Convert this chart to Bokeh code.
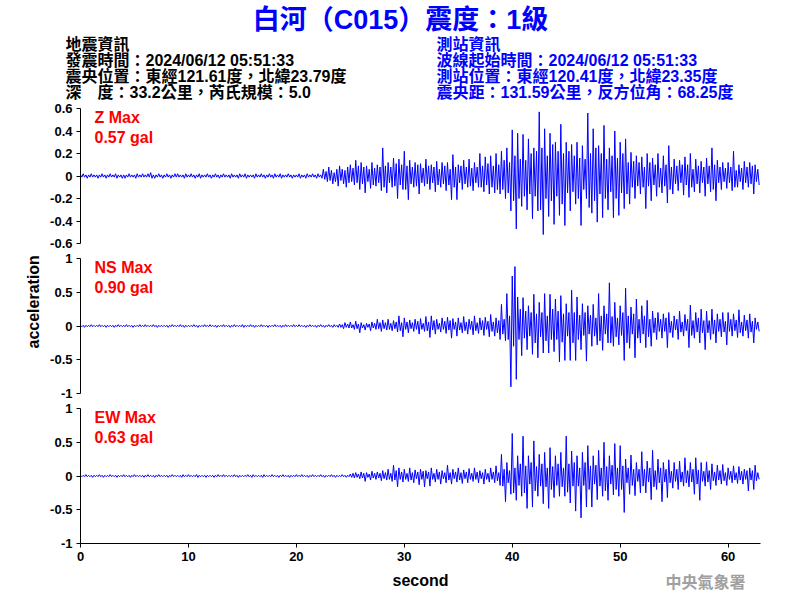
import numpy as np
from bokeh.plotting import figure
from bokeh.layouts import column
from bokeh.models import Range1d, FixedTicker, Label, Title, CustomJSTickFormatter
from bokeh.core.properties import value
from bokeh.embed import file_html
from bokeh.resources import INLINE

# ---------------- data ----------------
DT = 0.125  # seconds between samples

z_acc = [
    0.01, -0.01, 0.02, -0.01, 0.01, -0.02, 0.01, -0.01, 0.02, -0.01, 0.01, -0.01, 0.01, -0.02, 0.01, -0.01,
    0.02, -0.01, 0.01, -0.02, 0.01, -0.01, 0.02, -0.01, 0.01, -0.01, 0.02, -0.02, 0.01, -0.01, 0.01, -0.02,
    0.01, -0.02, 0.01, -0.01, 0.02, -0.01, 0.01, -0.01, 0.01, -0.02, 0.02, -0.01, 0.01, -0.01, 0.02, -0.01,
    0.01, -0.01, 0.02, -0.01, 0.03, -0.02, 0.01, -0.02, 0.01, -0.01, 0.02, -0.01, 0.01, -0.02, 0.01, -0.01,
    0.02, -0.01, 0.01, -0.02, 0.01, -0.01, 0.02, -0.01, 0.02, -0.01, 0.01, -0.01, 0.01, -0.02, 0.02, -0.01,
    0.01, -0.01, 0.02, -0.01, 0.01, -0.02, 0.01, -0.01, 0.02, -0.02, 0.01, -0.01, 0.01, -0.01, 0.02, -0.01,
    0.01, -0.02, 0.01, -0.01, 0.02, -0.01, 0.01, -0.02, 0.01, -0.01, 0.02, -0.01, 0.01, -0.01, 0.01, -0.02,
    0.02, -0.01, 0.01, -0.01, 0.01, -0.02, 0.02, -0.01, 0.01, -0.01, 0.02, -0.02, 0.01, -0.01, 0.01, -0.01,
    0.01, -0.02, 0.02, -0.01, 0.01, -0.01, 0.02, -0.01, 0.01, -0.02, 0.01, -0.01, 0.02, -0.01, 0.01, -0.02,
    0.02, -0.01, 0.01, -0.01, 0.02, -0.02, 0.01, -0.01, 0.01, -0.01, 0.02, -0.01, 0.01, -0.02, 0.01, -0.01,
    0.01, -0.01, 0.02, -0.02, 0.01, -0.01, 0.01, -0.02, 0.02, -0.01, 0.01, -0.01, 0.02, -0.01, 0.01, -0.02,
    0.02, -0.01, 0.01, -0.02, 0.06, -0.03, 0.04, -0.05, 0.08, -0.04, 0.05, -0.07, 0.03, -0.05, 0.06, -0.09,
    0.09, -0.04, 0.06, -0.07, 0.05, -0.10, 0.08, -0.06, 0.10, -0.05, 0.07, -0.08, 0.14, -0.06, 0.09, -0.12,
    0.12, -0.07, 0.08, -0.15, 0.09, -0.05, 0.06, -0.11, 0.12, -0.08, 0.07, -0.09, 0.10, -0.06, 0.08, -0.13,
    0.25, -0.10, 0.09, -0.15, 0.12, -0.06, 0.08, -0.10, 0.16, -0.09, 0.11, -0.20, 0.15, -0.08, 0.10, -0.12,
    0.22, -0.12, 0.09, -0.21, 0.14, -0.07, 0.08, -0.10, 0.12, -0.09, 0.10, -0.16, 0.11, -0.06, 0.07, -0.09,
    0.15, -0.07, 0.09, -0.12, 0.10, -0.06, 0.08, -0.14, 0.13, -0.08, 0.06, -0.10, 0.12, -0.07, 0.09, -0.13,
    0.12, -0.08, 0.06, -0.21, 0.19, -0.10, 0.08, -0.21, 0.10, -0.06, 0.09, -0.12, 0.14, -0.07, 0.08, -0.10,
    0.15, -0.09, 0.07, -0.13, 0.12, -0.06, 0.08, -0.10, 0.20, -0.10, 0.09, -0.14, 0.17, -0.08, 0.11, -0.16,
    0.18, -0.10, 0.09, -0.15, 0.20, -0.12, 0.10, -0.16, 0.22, -0.12, 0.14, -0.20, 0.25, -0.15, 0.12, -0.31,
    0.41, -0.22, 0.18, -0.47, 0.38, -0.20, 0.15, -0.27, 0.37, -0.18, 0.14, -0.30, 0.33, -0.16, 0.20, -0.38,
    0.25, -0.18, 0.22, -0.31, 0.57, -0.30, 0.25, -0.52, 0.42, -0.20, 0.18, -0.36, 0.38, -0.22, 0.28, -0.43,
    0.30, -0.18, 0.22, -0.35, 0.46, -0.25, 0.20, -0.44, 0.30, -0.15, 0.22, -0.31, 0.28, -0.14, 0.18, -0.25,
    0.30, -0.20, 0.16, -0.44, 0.27, -0.12, 0.15, -0.20, 0.56, -0.28, 0.20, -0.33, 0.42, -0.22, 0.25, -0.41,
    0.27, -0.16, 0.20, -0.37, 0.45, -0.20, 0.15, -0.30, 0.25, -0.14, 0.18, -0.37, 0.40, -0.20, 0.16, -0.35,
    0.30, -0.15, 0.20, -0.29, 0.33, -0.16, 0.12, -0.25, 0.21, -0.10, 0.13, -0.20, 0.18, -0.09, 0.12, -0.16,
    0.17, -0.10, 0.08, -0.29, 0.20, -0.09, 0.12, -0.22, 0.16, -0.08, 0.10, -0.18, 0.20, -0.10, 0.07, -0.15,
    0.18, -0.09, 0.10, -0.24, 0.27, -0.12, 0.08, -0.16, 0.15, -0.07, 0.09, -0.13, 0.14, -0.06, 0.10, -0.17,
    0.17, -0.08, 0.10, -0.19, 0.20, -0.10, 0.06, -0.14, 0.15, -0.07, 0.09, -0.15, 0.13, -0.06, 0.08, -0.18,
    0.16, -0.07, 0.09, -0.14, 0.25, -0.12, 0.10, -0.22, 0.14, -0.06, 0.08, -0.12, 0.12, -0.05, 0.07, -0.11,
    0.12, -0.06, 0.08, -0.13, 0.22, -0.10, 0.05, -0.10, 0.10, -0.05, 0.07, -0.12, 0.13, -0.06, 0.08, -0.10,
    0.12, -0.07, 0.09, -0.16, 0.10, -0.05, 0.06, -0.08,
]

ns_acc = [
    0.01, -0.01, 0.01, -0.02, 0.01, -0.01, 0.01, -0.01, 0.02, -0.01, 0.01, -0.01, 0.01, -0.01, 0.02, -0.01,
    0.01, -0.01, 0.01, -0.02, 0.01, -0.01, 0.01, -0.01, 0.01, -0.02, 0.01, -0.01, 0.02, -0.01, 0.01, -0.01,
    0.01, -0.01, 0.02, -0.01, 0.01, -0.01, 0.01, -0.02, 0.01, -0.01, 0.01, -0.01, 0.02, -0.01, 0.01, -0.01,
    0.02, -0.01, 0.01, -0.01, 0.01, -0.01, 0.02, -0.01, 0.01, -0.02, 0.01, -0.01, 0.01, -0.01, 0.01, -0.01,
    0.01, -0.02, 0.01, -0.01, 0.02, -0.01, 0.01, -0.01, 0.01, -0.01, 0.02, -0.01, 0.01, -0.02, 0.01, -0.01,
    0.01, -0.01, 0.01, -0.01, 0.02, -0.01, 0.01, -0.02, 0.01, -0.01, 0.01, -0.01, 0.02, -0.01, 0.01, -0.01,
    0.02, -0.01, 0.01, -0.01, 0.01, -0.02, 0.01, -0.01, 0.01, -0.01, 0.02, -0.01, 0.01, -0.01, 0.01, -0.02,
    0.01, -0.01, 0.02, -0.01, 0.01, -0.01, 0.01, -0.01, 0.02, -0.02, 0.01, -0.01, 0.01, -0.01, 0.02, -0.01,
    0.01, -0.02, 0.01, -0.01, 0.01, -0.01, 0.02, -0.01, 0.01, -0.01, 0.01, -0.02, 0.01, -0.01, 0.01, -0.01,
    0.02, -0.01, 0.01, -0.01, 0.01, -0.02, 0.01, -0.01, 0.02, -0.01, 0.01, -0.01, 0.01, -0.01, 0.02, -0.01,
    0.01, -0.01, 0.02, -0.01, 0.01, -0.01, 0.01, -0.02, 0.01, -0.01, 0.02, -0.01, 0.01, -0.01, 0.01, -0.02,
    0.01, -0.01, 0.02, -0.01, 0.01, -0.02, 0.01, -0.01, 0.02, -0.01, 0.01, -0.02, 0.02, -0.01, 0.01, -0.02,
    0.03, -0.02, 0.02, -0.04, 0.05, -0.02, 0.03, -0.03, 0.06, -0.03, 0.02, -0.05, 0.07, -0.04, 0.03, -0.10,
    0.05, -0.03, 0.02, -0.06, 0.04, -0.02, 0.03, -0.07, 0.06, -0.03, 0.04, -0.05, 0.10, -0.04, 0.05, -0.08,
    0.09, -0.04, 0.05, -0.06, 0.10, -0.05, 0.04, -0.07, 0.08, -0.04, 0.06, -0.09, 0.15, -0.07, 0.05, -0.16,
    0.12, -0.05, 0.06, -0.10, 0.09, -0.04, 0.05, -0.08, 0.10, -0.05, 0.07, -0.12, 0.11, -0.05, 0.04, -0.08,
    0.14, -0.07, 0.06, -0.17, 0.15, -0.06, 0.08, -0.12, 0.10, -0.05, 0.04, -0.09, 0.12, -0.05, 0.07, -0.11,
    0.13, -0.06, 0.08, -0.18, 0.11, -0.05, 0.06, -0.15, 0.12, -0.06, 0.05, -0.10, 0.14, -0.07, 0.06, -0.12,
    0.10, -0.05, 0.07, -0.13, 0.15, -0.07, 0.05, -0.11, 0.12, -0.06, 0.08, -0.14, 0.13, -0.05, 0.07, -0.16,
    0.17, -0.08, 0.06, -0.15, 0.12, -0.10, 0.08, -0.20, 0.32, -0.12, 0.10, -0.22, 0.48, -0.20, 0.15, -0.90,
    0.74, -0.30, 0.88, -0.79, 0.43, -0.20, 0.25, -0.44, 0.42, -0.18, 0.22, -0.35, 0.30, -0.15, 0.20, -0.42,
    0.47, -0.25, 0.18, -0.47, 0.35, -0.16, 0.20, -0.40, 0.48, -0.22, 0.15, -0.40, 0.47, -0.20, 0.25, -0.38,
    0.40, -0.20, 0.22, -0.53, 0.45, -0.24, 0.18, -0.51, 0.33, -0.15, 0.20, -0.51, 0.53, -0.25, 0.20, -0.51,
    0.43, -0.20, 0.16, -0.35, 0.33, -0.14, 0.20, -0.52, 0.30, -0.12, 0.16, -0.30, 0.32, -0.15, 0.12, -0.28,
    0.48, -0.22, 0.15, -0.36, 0.30, -0.12, 0.18, -0.25, 0.64, -0.25, 0.14, -0.30, 0.35, -0.16, 0.12, -0.28,
    0.30, -0.14, 0.20, -0.51, 0.56, -0.25, 0.15, -0.33, 0.28, -0.12, 0.18, -0.47, 0.40, -0.18, 0.10, -0.25,
    0.30, -0.12, 0.15, -0.32, 0.38, -0.16, 0.10, -0.30, 0.22, -0.10, 0.12, -0.20, 0.20, -0.08, 0.10, -0.18,
    0.18, -0.08, 0.12, -0.32, 0.20, -0.10, 0.07, -0.17, 0.15, -0.06, 0.10, -0.20, 0.22, -0.09, 0.06, -0.15,
    0.17, -0.07, 0.10, -0.32, 0.31, -0.14, 0.08, -0.18, 0.20, -0.09, 0.12, -0.25, 0.25, -0.10, 0.08, -0.35,
    0.22, -0.10, 0.08, -0.20, 0.25, -0.12, 0.09, -0.25, 0.18, -0.08, 0.10, -0.16, 0.20, -0.09, 0.07, -0.28,
    0.20, -0.08, 0.10, -0.15, 0.18, -0.07, 0.09, -0.17, 0.24, -0.10, 0.06, -0.15, 0.16, -0.07, 0.09, -0.18,
    0.18, -0.09, 0.07, -0.25, 0.12, -0.05, 0.06, -0.08,
]

ew_acc = [
    0.01, -0.01, 0.01, -0.01, 0.02, -0.01, 0.01, -0.01, 0.01, -0.02, 0.01, -0.01, 0.01, -0.01, 0.02, -0.01,
    0.01, -0.02, 0.01, -0.01, 0.01, -0.01, 0.02, -0.01, 0.01, -0.01, 0.01, -0.02, 0.01, -0.01, 0.01, -0.01,
    0.02, -0.01, 0.01, -0.01, 0.01, -0.02, 0.01, -0.01, 0.02, -0.01, 0.01, -0.01, 0.01, -0.01, 0.01, -0.02,
    0.01, -0.01, 0.02, -0.01, 0.01, -0.01, 0.01, -0.02, 0.01, -0.01, 0.02, -0.01, 0.01, -0.01, 0.01, -0.01,
    0.01, -0.02, 0.01, -0.01, 0.02, -0.01, 0.01, -0.01, 0.01, -0.01, 0.01, -0.02, 0.02, -0.01, 0.01, -0.01,
    0.02, -0.01, 0.01, -0.01, 0.01, -0.01, 0.02, -0.02, 0.01, -0.01, 0.01, -0.01, 0.01, -0.02, 0.01, -0.01,
    0.01, -0.01, 0.01, -0.02, 0.01, -0.01, 0.02, -0.01, 0.01, -0.01, 0.02, -0.01, 0.01, -0.01, 0.01, -0.01,
    0.01, -0.01, 0.02, -0.01, 0.01, -0.02, 0.01, -0.01, 0.01, -0.01, 0.01, -0.01, 0.02, -0.01, 0.01, -0.02,
    0.02, -0.01, 0.01, -0.01, 0.01, -0.01, 0.01, -0.02, 0.02, -0.01, 0.01, -0.01, 0.01, -0.01, 0.02, -0.01,
    0.01, -0.01, 0.01, -0.02, 0.01, -0.01, 0.02, -0.01, 0.01, -0.01, 0.01, -0.02, 0.01, -0.01, 0.01, -0.01,
    0.02, -0.01, 0.01, -0.01, 0.02, -0.01, 0.01, -0.01, 0.01, -0.02, 0.01, -0.01, 0.02, -0.01, 0.01, -0.01,
    0.01, -0.01, 0.02, -0.01, 0.01, -0.02, 0.01, -0.01, 0.01, -0.01, 0.02, -0.01, 0.01, -0.02, 0.01, -0.01,
    0.01, -0.01, 0.02, -0.01, 0.01, -0.02, 0.01, -0.01, 0.03, -0.02, 0.04, -0.03, 0.05, -0.02, 0.03, -0.04,
    0.06, -0.03, 0.04, -0.08, 0.05, -0.02, 0.03, -0.06, 0.07, -0.03, 0.04, -0.05, 0.06, -0.03, 0.04, -0.07,
    0.08, -0.04, 0.05, -0.06, 0.10, -0.05, 0.04, -0.08, 0.16, -0.06, 0.08, -0.16, 0.12, -0.05, 0.06, -0.09,
    0.10, -0.05, 0.04, -0.08, 0.12, -0.06, 0.05, -0.10, 0.09, -0.04, 0.06, -0.13, 0.10, -0.05, 0.07, -0.16,
    0.08, -0.04, 0.06, -0.15, 0.12, -0.05, 0.04, -0.09, 0.10, -0.05, 0.06, -0.12, 0.08, -0.04, 0.05, -0.10,
    0.16, -0.06, 0.05, -0.12, 0.10, -0.04, 0.06, -0.09, 0.12, -0.06, 0.05, -0.11, 0.09, -0.04, 0.06, -0.10,
    0.11, -0.05, 0.04, -0.08, 0.12, -0.05, 0.06, -0.10, 0.08, -0.04, 0.05, -0.12, 0.10, -0.05, 0.04, -0.09,
    0.12, -0.05, 0.06, -0.10, 0.15, -0.07, 0.05, -0.14, 0.32, -0.15, 0.10, -0.38, 0.20, -0.10, 0.08, -0.27,
    0.63, -0.25, 0.12, -0.36, 0.30, -0.14, 0.18, -0.30, 0.59, -0.25, 0.15, -0.48, 0.30, -0.12, 0.20, -0.46,
    0.52, -0.22, 0.14, -0.30, 0.32, -0.15, 0.18, -0.41, 0.35, -0.16, 0.12, -0.48, 0.42, -0.20, 0.14, -0.32,
    0.30, -0.14, 0.18, -0.30, 0.35, -0.16, 0.12, -0.30, 0.59, -0.24, 0.18, -0.40, 0.37, -0.15, 0.20, -0.52,
    0.30, -0.15, 0.12, -0.62, 0.35, -0.14, 0.20, -0.46, 0.45, -0.20, 0.15, -0.46, 0.30, -0.12, 0.16, -0.35,
    0.38, -0.15, 0.12, -0.30, 0.50, -0.22, 0.14, -0.36, 0.30, -0.12, 0.16, -0.28, 0.48, -0.20, 0.12, -0.30,
    0.45, -0.20, 0.15, -0.54, 0.25, -0.10, 0.12, -0.27, 0.31, -0.14, 0.10, -0.29, 0.20, -0.08, 0.10, -0.25,
    0.36, -0.15, 0.10, -0.25, 0.22, -0.09, 0.12, -0.35, 0.38, -0.16, 0.08, -0.20, 0.25, -0.10, 0.12, -0.38,
    0.20, -0.09, 0.10, -0.32, 0.24, -0.10, 0.07, -0.18, 0.20, -0.08, 0.10, -0.20, 0.22, -0.09, 0.06, -0.15,
    0.27, -0.10, 0.08, -0.16, 0.20, -0.09, 0.10, -0.27, 0.27, -0.12, 0.09, -0.36, 0.20, -0.08, 0.07, -0.15,
    0.21, -0.09, 0.08, -0.20, 0.18, -0.07, 0.06, -0.14, 0.16, -0.06, 0.08, -0.12, 0.17, -0.07, 0.05, -0.14,
    0.12, -0.05, 0.07, -0.10, 0.15, -0.06, 0.05, -0.11, 0.14, -0.06, 0.07, -0.12, 0.10, -0.05, 0.08, -0.22,
    0.12, -0.06, 0.08, -0.20, 0.16, -0.07, 0.05, -0.05,
]

component_names = ["Z", "NS", "EW"]
max_gal = ["0.57", "0.90", "0.63"]
y_limits = [0.6, 1.0, 1.0]
y_ticks = [
    [-0.6, -0.4, -0.2, 0, 0.2, 0.4, 0.6],
    [-1, -0.5, 0, 0.5, 1],
    [-1, -0.5, 0, 0.5, 1],
]
x_ticks = [0, 10, 20, 30, 40, 50, 60]
x_max = 63

title_text = "白河（C015）震度：1級"
left_info = [
    "地震資訊",
    "發震時間：2024/06/12 05:51:33",
    "震央位置：東經121.61度，北緯23.79度",
    "深　度：33.2公里，芮氏規模：5.0",
]
right_info = [
    "測站資訊",
    "波線起始時間：2024/06/12 05:51:33",
    "測站位置：東經120.41度，北緯23.35度",
    "震央距：131.59公里，反方位角：68.25度",
]
x_label = "second"
y_label = "acceleration"
watermark = "中央氣象署"

# ---------------- styling / layout ----------------
BLUE = "#0000FF"
FONT = "Liberation Sans"
MIXED = "Liberation Sans, Noto Sans CJK TC"
LEFT, RIGHT = 80, 40
FRAME_H = 135
GAP_TOP, GAP_BOT = 7, 8
HEADER_H = 101
LAST_BOT = 24
FOOTER_H = 33

header = figure(width=800, height=HEADER_H, x_range=Range1d(0, 800),
                y_range=Range1d(HEADER_H, 0), output_backend="svg",
                toolbar_location=None, x_axis_location=None, y_axis_location=None,
                min_border=0, outline_line_color=None)
header.grid.grid_line_color = None
header.text(x=[400], y=[19], text=[title_text], text_color=BLUE,
            text_font=value(MIXED), text_font_style="bold", text_font_size="27px",
            text_align="center", text_baseline="middle")
rows_y = [44, 60, 76, 92]
header.text(x=[65] * 4, y=rows_y, text=left_info, text_color="black",
            text_font=value(MIXED), text_font_style="bold", text_font_size="16px",
            text_align="left", text_baseline="middle")
header.text(x=[436] * 4, y=rows_y, text=right_info, text_color=BLUE,
            text_font=value(MIXED), text_font_style="bold", text_font_size="16px",
            text_align="left", text_baseline="middle")

fmt = CustomJSTickFormatter(code="return String(tick);")

series = [z_acc, ns_acc, ew_acc]
panels = []
for i, acc in enumerate(series):
    last = i == 2
    lim = y_limits[i]
    bottom = LAST_BOT if last else GAP_BOT
    p = figure(width=800, height=GAP_TOP + FRAME_H + bottom,
               x_range=Range1d(0, x_max), y_range=Range1d(-lim, lim),
               output_backend="svg", toolbar_location=None,
               x_axis_location="below" if last else None,
               min_border_left=LEFT, min_border_right=RIGHT,
               min_border_top=GAP_TOP, min_border_bottom=bottom,
               outline_line_color=None)
    p.grid.grid_line_color = None
    t = np.arange(len(acc)) * DT
    p.line(t, acc, line_color=BLUE, line_width=1)

    ya = p.yaxis[0]
    ya.ticker = FixedTicker(ticks=y_ticks[i])
    ya.formatter = fmt
    ya.minor_tick_line_color = None
    ya.major_tick_in = 0
    ya.major_tick_out = 4
    ya.major_label_standoff = 4
    ya.major_label_text_font = FONT
    ya.major_label_text_font_style = "bold"
    ya.major_label_text_font_size = "13px"
    ya.major_label_text_color = "black"
    ya.axis_line_color = "black"
    ya.major_tick_line_color = "black"

    if last:
        xa = p.xaxis[0]
        xa.ticker = FixedTicker(ticks=x_ticks)
        xa.formatter = fmt
        xa.minor_tick_line_color = None
        xa.major_tick_in = 0
        xa.major_tick_out = 4
        xa.major_label_standoff = 4
        xa.major_label_text_font = FONT
        xa.major_label_text_font_style = "bold"
        xa.major_label_text_font_size = "13px"
        xa.major_label_text_color = "black"
        xa.axis_line_color = "black"
        xa.major_tick_line_color = "black"

    p.add_layout(Label(x=0, y=lim, x_offset=14, y_offset=-9,
                       text=f"{component_names[i]} Max", text_color="#FF0000",
                       text_font=FONT, text_font_style="bold", text_font_size="16px",
                       text_align="left", text_baseline="middle"))
    p.add_layout(Label(x=0, y=lim, x_offset=14, y_offset=-29,
                       text=f"{max_gal[i]} gal", text_color="#FF0000",
                       text_font=FONT, text_font_style="bold", text_font_size="16px",
                       text_align="left", text_baseline="middle"))
    if i == 1:
        p.add_layout(Title(text=y_label, align="left", offset=45,
                           text_font=FONT, text_font_style="bold",
                           text_font_size="16px", text_color="black",
                           standoff=12), "left")
    panels.append(p)

footer = figure(width=800, height=FOOTER_H, x_range=Range1d(0, x_max),
                y_range=Range1d(FOOTER_H, 0), output_backend="svg",
                toolbar_location=None, x_axis_location=None, y_axis_location=None,
                min_border_left=LEFT, min_border_right=RIGHT,
                min_border_top=0, min_border_bottom=0, outline_line_color=None)
footer.grid.grid_line_color = None
footer.text(x=[x_max / 2], y=[13], text=[x_label], text_color="black",
            text_font=value(FONT), text_font_style="bold", text_font_size="16px",
            text_align="center", text_baseline="middle")
footer.text(x=[x_max], y=[13], x_offset=-15, text=[watermark], text_color="#A0A0A0",
            text_font=value("Noto Sans CJK TC"), text_font_style="bold",
            text_font_size="16px", text_align="right", text_baseline="middle")

layout = column(header, column(*panels, footer, spacing=0), spacing=0)
open("out.html", "w").write(file_html(layout, INLINE))
